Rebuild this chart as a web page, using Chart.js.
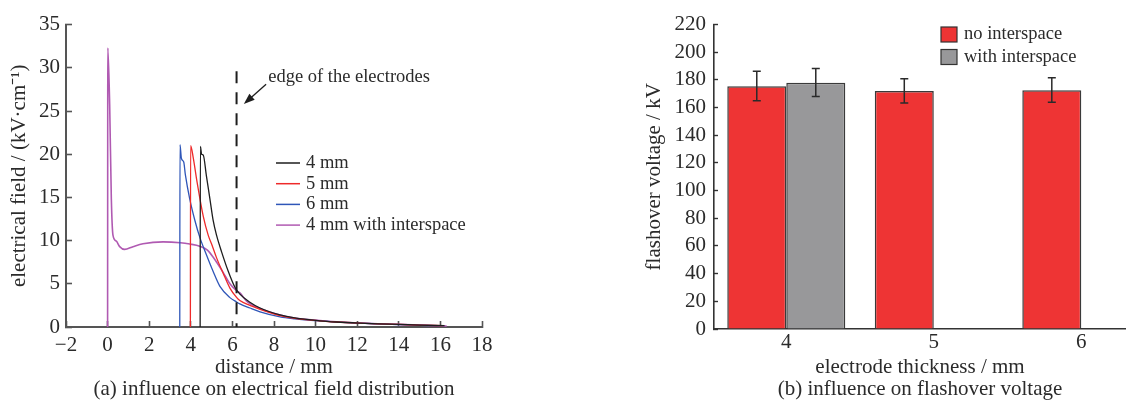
<!DOCTYPE html>
<html><head><meta charset="utf-8">
<script src="https://cdn.jsdelivr.net/npm/chart.js@4/dist/chart.umd.min.js"></script>
<style>
html,body{margin:0;padding:0;background:#fff;overflow:hidden;width:1126px;height:403px}
#c1{position:absolute;left:0;top:0}
#c2{position:absolute;left:620px;top:0}
</style></head><body>
<canvas id="c1" width="560" height="403"></canvas>
<canvas id="c2" width="506" height="403"></canvas>
<script>
// ---------- (a) electrical field distribution ----------
const legendA = ['4 mm', '5 mm', '6 mm', '4 mm with interspace'];
const x4mm = [4.45,4.46,4.52,4.6,4.75,4.92,5.07,5.24,5.48,5.8,6.12,6.36,6.84,7.33,8.29,9,10.2,11,12.1,13,14,15,16.2];
const y4mm = [0,20.9,20.0,19.9,17.5,14.8,12.4,10.6,8.7,6.45,4.6,3.8,2.87,2.2,1.4,1.05,0.72,0.58,0.45,0.37,0.3,0.22,0.15];
const x5mm = [3.98,3.99,4.11,4.3,4.6,4.84,5.0,5.24,5.56,5.88,6.2,6.36,6.84,7.33,8.29,9,10.2,11,12.1,13,14,15,16.1];
const y5mm = [0,21.0,19.7,16.8,12.8,10.6,9.6,8.0,6.2,4.5,3.43,3.06,2.5,2.05,1.33,1.0,0.72,0.58,0.45,0.37,0.3,0.22,0.15];
const x6mm = [3.47,3.48,3.55,3.66,3.74,3.95,4.2,4.43,4.76,5.07,5.4,5.88,6.2,6.36,6.84,7.33,8.29,9,10.2,11,12.1,13,14,15,16.0];
const y6mm = [0,21.1,19.5,19.1,17.6,14.8,12.3,10.4,8.3,6.45,4.7,3.4,2.9,2.68,2.2,1.75,1.17,0.95,0.7,0.57,0.44,0.36,0.28,0.2,0.15];
const x4mmGap = [0,0.01,0.1,0.18,0.26,0.42,0.58,0.82,1.22,1.7,2.67,3.5,3.95,4.43,4.8,5.07,5.56,5.88,6.2,6.36,6.68,7.33,8.29,9,10.2,11,12.1,13,14,15,16.3];
const y4mmGap = [0,32.3,25.7,14.8,10.6,9.93,9.3,8.98,9.3,9.63,9.85,9.75,9.6,9.35,8.9,8.1,6.3,5.0,4.2,3.95,3.0,2.15,1.4,1.05,0.75,0.6,0.47,0.38,0.3,0.22,0.12];
const edgeX = 6.2, edgeTop = 29.6;
const edgeLabel = 'edge of the electrodes';
const edgeLabelAt = [7.72, 28.9];
const arrowFrom = [7.62, 28.1], arrowTo = [6.55, 25.8];

// ---------- (b) flashover voltage ----------
const thickness = [4, 5, 6];
const noGap = [175.5, 172, 172.5];
const noGapLo = [164.9, 163.4, 163.9];
const noGapHi = [186.2, 180.8, 181.5];
const withGapX = [4];
const withGap = [178];
const withGapLo = [168];
const withGapHi = [188.2];
const legendB = ['no interspace', 'with interspace'];

const FONT = "'Liberation Serif','Times New Roman',serif";
const TXT = '#2b2b2b';
const pts = (xs, ys) => xs.map((x, i) => ({x, y: ys[i]}));
const minus = v => (v < 0 ? '\u2212' + Math.abs(v) : String(v));
const lineColors = ['#1e1e1e', '#ee2a2a', '#2f56b8', '#b05ab2'];

const annotA = {
  id: 'annotA',
  afterDatasetsDraw(chart) {
    const {ctx, scales: {x, y}} = chart;
    ctx.save();
    ctx.strokeStyle = '#1e1e1e'; ctx.lineWidth = 2; ctx.setLineDash([12, 9]);
    ctx.beginPath();
    ctx.moveTo(x.getPixelForValue(edgeX), y.getPixelForValue(edgeTop));
    ctx.lineTo(x.getPixelForValue(edgeX), y.getPixelForValue(0));
    ctx.stroke();
    ctx.setLineDash([]);
    const x1 = x.getPixelForValue(arrowFrom[0]), y1 = y.getPixelForValue(arrowFrom[1]);
    const x2 = x.getPixelForValue(arrowTo[0]), y2 = y.getPixelForValue(arrowTo[1]);
    const ang = Math.atan2(y2 - y1, x2 - x1);
    ctx.lineWidth = 1.3;
    ctx.beginPath(); ctx.moveTo(x1, y1); ctx.lineTo(x2 - 8 * Math.cos(ang), y2 - 8 * Math.sin(ang)); ctx.stroke();
    ctx.fillStyle = '#1e1e1e';
    ctx.beginPath();
    ctx.moveTo(x2, y2);
    ctx.lineTo(x2 - 11 * Math.cos(ang) + 4 * Math.sin(ang), y2 - 11 * Math.sin(ang) - 4 * Math.cos(ang));
    ctx.lineTo(x2 - 11 * Math.cos(ang) - 4 * Math.sin(ang), y2 - 11 * Math.sin(ang) + 4 * Math.cos(ang));
    ctx.closePath(); ctx.fill();
    ctx.font = '18.5px ' + FONT; ctx.fillStyle = TXT; ctx.textBaseline = 'middle'; ctx.textAlign = 'left';
    ctx.fillText(edgeLabel, x.getPixelForValue(edgeLabelAt[0]), y.getPixelForValue(edgeLabelAt[1]));
    chart.data.datasets.forEach((ds, i) => {
      const ly = 163 + i * 20.7;
      ctx.strokeStyle = ds.borderColor; ctx.lineWidth = 1.5;
      ctx.beginPath(); ctx.moveTo(276, ly); ctx.lineTo(300, ly); ctx.stroke();
      ctx.fillStyle = TXT;
      ctx.fillText(ds.label, 306, ly);
    });
    ctx.restore();
  }
};

new Chart(document.getElementById('c1'), {
  type: 'line',
  data: {
    datasets: [
      {label: legendA[0], data: pts(x4mm, y4mm), borderColor: lineColors[0]},
      {label: legendA[1], data: pts(x5mm, y5mm), borderColor: lineColors[1]},
      {label: legendA[2], data: pts(x6mm, y6mm), borderColor: lineColors[2]},
      {label: legendA[3], data: pts(x4mmGap, y4mmGap), borderColor: lineColors[3], borderWidth: 1.6}
    ].map(d => Object.assign({borderWidth: 1.3, pointRadius: 0, cubicInterpolationMode: 'monotone', fill: false}, d))
  },
  options: {
    responsive: false, animation: false, events: [],
    layout: {padding: {top: 18, right: 78, left: 0, bottom: 0}},
    plugins: {legend: {display: false}, tooltip: {enabled: false}},
    scales: {
      x: {
        type: 'linear', min: -2, max: 18,
        ticks: {stepSize: 2, autoSkip: false, color: TXT, font: {family: FONT, size: 21}, padding: 12, callback: minus, maxRotation: 0},
        grid: {drawOnChartArea: false, drawTicks: true, tickLength: -6, color: '#555', tickWidth: 1.6},
        border: {color: '#555', width: 2},
        title: {display: true, text: ['distance / mm', '(a) influence on electrical field distribution'],
                color: TXT, font: {family: FONT, size: 21, lineHeight: 1.05}, padding: {top: 0, bottom: 2}},
        afterFit: s => { s.height = 76; }
      },
      y: {
        type: 'linear', min: 0, max: 35,
        ticks: {stepSize: 5, autoSkip: false, color: TXT, font: {family: FONT, size: 21}, padding: 12},
        grid: {drawOnChartArea: false, drawTicks: true, tickLength: -6, color: '#555', tickWidth: 1.6},
        border: {color: '#555', width: 2},
        title: {display: true, text: 'electrical field / (kV\u00b7cm\u207b\u00b9)', color: TXT,
                font: {family: FONT, size: 21, lineHeight: 1.05}, padding: {top: 8, bottom: 0}},
        afterFit: s => { s.width = 66; }
      }
    }
  },
  plugins: [annotA]
});

const annotB = {
  id: 'annotB',
  afterDatasetsDraw(chart) {
    const {ctx, scales: {y}} = chart;
    const los = [noGapLo, withGapLo], his = [noGapHi, withGapHi];
    ctx.save();
    ctx.strokeStyle = '#2a2a2a'; ctx.lineWidth = 1.5;
    chart.data.datasets.forEach((ds, i) => {
      chart.getDatasetMeta(i).data.forEach((bar, j) => {
        const yl = y.getPixelForValue(los[i][j]), yh = y.getPixelForValue(his[i][j]);
        ctx.beginPath();
        ctx.moveTo(bar.x, yl); ctx.lineTo(bar.x, yh);
        ctx.moveTo(bar.x - 4, yl); ctx.lineTo(bar.x + 4, yl);
        ctx.moveTo(bar.x - 4, yh); ctx.lineTo(bar.x + 4, yh);
        ctx.stroke();
      });
    });
    ctx.font = '18.5px ' + FONT; ctx.textBaseline = 'middle'; ctx.textAlign = 'left';
    chart.data.datasets.forEach((ds, i) => {
      const by = 27 + i * 22.5;
      ctx.fillStyle = ds.backgroundColor; ctx.fillRect(321, by, 16, 15);
      ctx.strokeStyle = '#333'; ctx.lineWidth = 1.2; ctx.strokeRect(321, by, 16, 15);
      ctx.fillStyle = TXT; ctx.fillText(ds.label, 344, by + 7.5);
    });
    ctx.restore();
  }
};

new Chart(document.getElementById('c2'), {
  type: 'bar',
  data: {
    datasets: [
      {label: legendB[0], data: pts(thickness, noGap), backgroundColor: '#ee3434'},
      {label: legendB[1], data: pts(withGapX, withGap), backgroundColor: '#98989a'}
    ].map(d => Object.assign({borderColor: '#3a3a3a', borderWidth: 1.5, borderSkipped: 'start',
                              categoryPercentage: 0.8, barPercentage: 1.0}, d))
  },
  options: {
    responsive: false, animation: false, events: [],
    layout: {padding: {top: 21, right: 0, left: 0, bottom: 0}},
    plugins: {legend: {display: false}, tooltip: {enabled: false}},
    scales: {
      x: {
        type: 'linear', min: 3.51, max: 6.303, offset: false,
        ticks: {stepSize: 1, includeBounds: false, autoSkip: false, color: TXT, font: {family: FONT, size: 21}, padding: 1, maxRotation: 0},
        grid: {drawOnChartArea: false, drawTicks: false, offset: false},
        border: {color: '#333', width: 1.6},
        title: {display: true, text: ['electrode thickness / mm', '(b) influence on flashover voltage'],
                color: TXT, font: {family: FONT, size: 21, lineHeight: 1.05}, padding: {top: 0, bottom: 2}},
        afterFit: s => { s.height = 74; }
      },
      y: {
        type: 'linear', min: 0, max: 220,
        ticks: {stepSize: 20, autoSkip: false, color: TXT, font: {family: FONT, size: 21}, padding: 12},
        grid: {drawOnChartArea: false, drawTicks: true, tickLength: -4, color: '#333', tickWidth: 1.4},
        border: {color: '#333', width: 1.6},
        title: {display: true, text: 'flashover voltage / kV', color: TXT,
                font: {family: FONT, size: 21, lineHeight: 1.05}, padding: {top: 23, bottom: 0}},
        afterFit: s => { s.width = 94; }
      }
    }
  },
  plugins: [annotB]
});
</script>
</body></html>
